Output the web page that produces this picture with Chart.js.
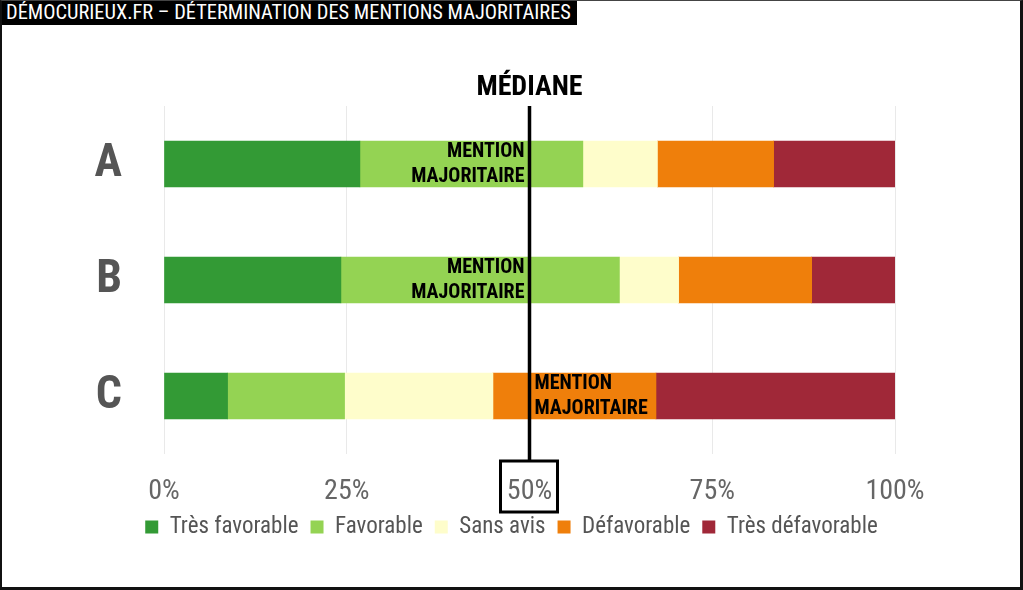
<!DOCTYPE html>
<html>
<head>
<meta charset="utf-8">
<script src="https://cdn.jsdelivr.net/npm/chart.js@4"></script>
<style>
  html, body { margin: 0; padding: 0; background: #fff; }
  #frame {
    position: relative; width: 1023px; height: 590px; box-sizing: border-box;
    border-left: 2px solid #111; border-right: 3px solid #111; border-bottom: 3px solid #111; border-top: 1px solid #444;
    overflow: hidden;
  }
  #titre {
    position: absolute; left: -2px; top: -1px; height: 25px; padding: 0 6px 0 6px;
    background: #000; color: #fff; line-height: 25px; font-size: 20.4px;
    font-family: "Roboto Condensed", "Liberation Sans Narrow", "DejaVu Sans Condensed", Roboto, sans-serif;
    white-space: nowrap;
  }
  canvas { position: absolute; left: -2px; top: -1px; }
</style>
</head>
<body>
<div id="frame">
  <canvas id="graph" width="1023" height="590"></canvas>
  <div id="titre">DÉMOCURIEUX.FR – DÉTERMINATION DES MENTIONS MAJORITAIRES</div>
</div>
<script>
// donnees (en %)
var candidats = ['A', 'B', 'C'];
var mentions = ['Très favorable', 'Favorable', 'Sans avis', 'Défavorable', 'Très défavorable'];
var tresFavorable = [26.8, 24.2, 8.7];
var favorable = [30.5, 38.1, 16.0];
var sansAvis = [10.2, 8.1, 20.3];
var defavorable = [15.9, 18.2, 22.3];
var tresDefavorable = [16.6, 11.4, 32.7];
var couleurs = ['#339a35', '#94d353', '#fefdcb', '#ef7f0b', '#a02838'];
var mediane = 50;

var police = '"Roboto Condensed", "Liberation Sans Narrow", "DejaVu Sans Condensed", Roboto, sans-serif';

var series = [tresFavorable, favorable, sansAvis, defavorable, tresDefavorable];
var datasets = [];
for (var i = 0; i < series.length; i++) {
  datasets.push({
    label: mentions[i],
    data: series[i],
    backgroundColor: couleurs[i],
    borderWidth: 0,
    barThickness: 46
  });
}

// ligne de la mediane + texte "mention majoritaire"
var pluginMediane = {
  id: 'mediane',
  afterDatasetsDraw: function (chart) {
    var ctx = chart.ctx;
    var xs = chart.scales.x;
    var ys = chart.scales.y;
    var xm = xs.getPixelForValue(mediane);
    var area = chart.chartArea;

    ctx.save();
    // titre MÉDIANE
    ctx.fillStyle = '#000';
    ctx.font = 'bold 28px ' + police;
    ctx.textAlign = 'center';
    ctx.textBaseline = 'middle';
    ctx.fillText('MÉDIANE', xm, area.top - 18);

    // mention majoritaire pour chaque candidat
    ctx.font = 'bold 20px ' + police;
    for (var c = 0; c < candidats.length; c++) {
      var cumul = 0;
      for (var s = 0; s < series.length; s++) {
        var debut = cumul;
        cumul += series[s][c];
        if (cumul >= mediane) {
          var yc = ys.getPixelForValue(c);
          var gauche = mediane - debut;
          var droite = cumul - mediane;
          if (gauche >= droite) {
            ctx.textAlign = 'right';
            ctx.fillText('MENTION', xm - 5, yc - 12);
            ctx.fillText('MAJORITAIRE', xm - 5, yc + 13);
          } else {
            ctx.textAlign = 'left';
            ctx.fillText('MENTION', xm + 5, yc - 12);
            ctx.fillText('MAJORITAIRE', xm + 5, yc + 13);
          }
          break;
        }
      }
    }

    // ligne verticale
    ctx.strokeStyle = '#000';
    ctx.lineWidth = 3.5;
    ctx.beginPath();
    ctx.moveTo(xm, area.top);
    ctx.lineTo(xm, area.bottom + 7);
    ctx.stroke();

    // cadre autour de 50%
    ctx.lineWidth = 3;
    ctx.strokeRect(xm - 29, area.bottom + 7, 57, 51);
    ctx.restore();
  }
};

new Chart(document.getElementById('graph'), {
  type: 'bar',
  data: { labels: candidats, datasets: datasets },
  options: {
    indexAxis: 'y',
    responsive: false,
    animation: false,
    layout: { padding: { top: 106, right: 0, left: 0, bottom: 41.5 } },
    scales: {
      x: {
        stacked: true,
        min: 0,
        max: 100,
        grid: { color: '#e9e9e9', drawTicks: false },
        border: { display: false },
        ticks: {
          stepSize: 25,
          padding: 21,
          color: '#666',
          font: { family: police, size: 28 },
          callback: function (v) { return v + '%'; }
        },
        afterFit: function (scale) { scale.height = 49.5; }
      },
      y: {
        stacked: true,
        grid: { display: false },
        border: { display: false },
        ticks: {
          padding: 34,
          color: '#555',
          font: { family: police, size: 46, weight: 'bold' }
        },
        afterFit: function (scale) { scale.width = 164; }
      },
      // marge a droite du graphique
      droite: {
        type: 'category',
        position: 'right',
        grid: { display: false },
        border: { display: false },
        ticks: { display: false },
        afterFit: function (scale) { scale.width = 128; }
      }
    },
    plugins: {
      legend: {
        position: 'bottom',
        labels: {
          boxWidth: 13,
          boxHeight: 13,
          padding: 12,
          color: '#555',
          font: { family: police, size: 23 }
        }
      },
      tooltip: { enabled: false }
    }
  },
  plugins: [pluginMediane]
});
</script>
</body>
</html>
